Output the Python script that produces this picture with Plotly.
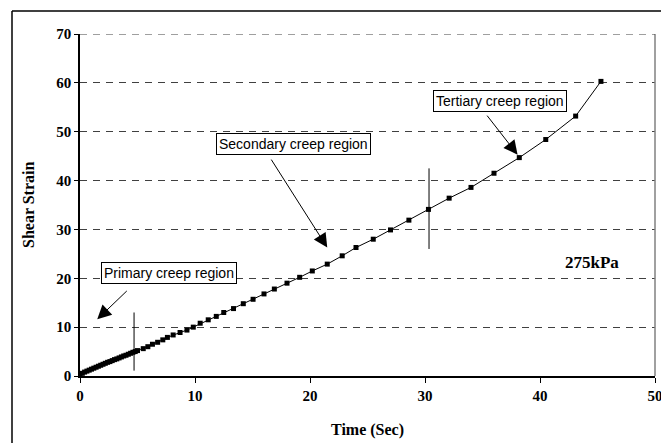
import plotly.graph_objects as go

# Data
time_s = [0.0, 0.2, 0.4, 0.6, 0.8, 1.0, 1.2, 1.4, 1.6, 1.8, 2.0, 2.2, 2.4, 2.6, 2.8,
          3.0, 3.2, 3.4, 3.6, 3.8, 4.0, 4.2, 4.4, 4.6, 4.8, 5.0,
          5.5, 5.9, 6.3, 6.75, 7.2, 7.6, 8.1, 8.7, 9.3, 9.85, 10.45, 11.15, 11.85,
          12.5, 13.35, 14.2, 15.05, 16.0, 16.9, 18.0, 19.1, 20.2, 21.5, 22.8, 24.0,
          25.5, 27.0, 28.6, 30.3, 32.1, 34.0, 36.0, 38.2, 40.5, 43.1, 45.3]
shear_strain = [0.3, 0.55, 0.8, 1.0, 1.2, 1.4, 1.6, 1.8, 2.0, 2.2, 2.4, 2.6, 2.8, 2.95, 3.15,
                3.35, 3.5, 3.7, 3.9, 4.1, 4.25, 4.45, 4.65, 4.85, 5.0, 5.2,
                5.6, 6.0, 6.5, 6.9, 7.4, 7.9, 8.4, 8.9, 9.4, 10.0, 10.8, 11.5, 12.2,
                13.0, 13.8, 14.8, 15.7, 16.8, 17.8, 19.0, 20.2, 21.5, 22.9, 24.6, 26.3,
                28.0, 29.9, 31.9, 34.1, 36.4, 38.6, 41.5, 44.7, 48.4, 53.2, 60.3]

x_ticks = [0, 10, 20, 30, 40, 50]
y_ticks = [0, 10, 20, 30, 40, 50, 60, 70]

# region boundary markers (x, y0, y1)
boundaries = [(4.7, 1.1, 13.0), (30.35, 26.0, 42.5)]

# labelled arrows: text, box centre (x, y), arrow tail (x, y), arrow head (x, y)
labels = [
    ("Primary creep region", (7.75, 21.1), (4.2, 17.7), (1.5, 11.6)),
    ("Secondary creep region", (18.6, 47.5), (16.55, 44.6), (21.5, 26.3)),
    ("Tertiary creep region", (36.55, 56.2), (35.3, 53.6), (38.05, 45.3)),
]

serif = "Liberation Serif, Times New Roman, serif"
grid_dash = "7px,6px"

fig = go.Figure()
fig.add_trace(go.Scatter(
    x=time_s, y=shear_strain, mode="lines+markers",
    line=dict(color="black", width=1),
    marker=dict(symbol="square", size=5, color="black"),
    showlegend=False, hoverinfo="skip"))

for bx, y0, y1 in boundaries:
    fig.add_trace(go.Scatter(x=[bx, bx], y=[y0, y1], mode="lines",
                             line=dict(color="black", width=1),
                             showlegend=False, hoverinfo="skip"))

for text, (cx, cy), (tx, ty), (hx, hy) in labels:
    fig.add_annotation(x=cx, y=cy, text=text, showarrow=False,
                       font=dict(family="Liberation Sans, Arial", size=14, color="black"),
                       bordercolor="black", borderwidth=1, borderpad=2, bgcolor="white")
    fig.add_annotation(x=hx, y=hy, ax=tx, ay=ty, axref="x", ayref="y",
                       text="", showarrow=True, arrowhead=2, arrowsize=2.8,
                       arrowwidth=1, arrowcolor="black")

fig.add_annotation(x=44.5, y=23.3, text="275kPa", showarrow=False,
                   font=dict(family=serif, size=17, color="black", weight="bold"))

# axis titles
fig.add_annotation(xref="paper", yref="paper", x=(28 - 80) / 575, y=0.5,
                   xanchor="center", yanchor="middle",
                   text="Shear Strain", textangle=-90, showarrow=False,
                   font=dict(family=serif, size=16, color="black", weight="bold"))
fig.add_annotation(xref="paper", yref="paper", x=0.5, y=-(430 - 376) / 342,
                   xanchor="center", yanchor="middle",
                   text="Time (Sec)", showarrow=False,
                   font=dict(family=serif, size=16, color="black", weight="bold"))

# outer chart frame (left and top edges visible)
fig.add_shape(type="line", xref="paper", yref="paper",
              x0=(12 - 80) / 575, x1=(12 - 80) / 575, y0=(376 - 11) / 342, y1=-0.3,
              line=dict(color="black", width=1.5))
fig.add_shape(type="line", xref="paper", yref="paper",
              x0=(12 - 80) / 575, x1=1.2, y0=(376 - 11) / 342, y1=(376 - 11) / 342,
              line=dict(color="black", width=1.5))
# right plot-area border
fig.add_shape(type="line", xref="paper", yref="paper", x0=1, x1=1, y0=0, y1=1,
              line=dict(color="#808080", width=1.5))
# top gridline at the range edge
fig.add_shape(type="line", xref="paper", yref="y", x0=0, x1=1, y0=y_ticks[-1], y1=y_ticks[-1],
              line=dict(color="#404040", width=1, dash=grid_dash))

tick_font = dict(family=serif, size=15, color="black", weight="bold")
fig.update_xaxes(range=[0, 50], tickvals=x_ticks, ticktext=[str(v) for v in x_ticks],
                 showgrid=False, zeroline=False, showline=True, linecolor="black", linewidth=1.5,
                 ticks="outside", ticklen=5, tickcolor="black", tickfont=tick_font,
                 ticklabeloverflow="allow", automargin=False)
fig.update_yaxes(range=[0, 70], tickvals=y_ticks, ticktext=[str(v) for v in y_ticks],
                 showgrid=True, gridcolor="#404040", griddash=grid_dash, gridwidth=1,
                 zeroline=False, showline=True, linecolor="black", linewidth=1.5,
                 ticks="outside", ticklen=4, tickcolor="black", tickfont=tick_font,
                 ticklabeloverflow="allow", automargin=False)

fig.update_layout(width=661, height=443, margin=dict(l=80, r=6, t=34, b=67, autoexpand=False),
                  paper_bgcolor="white", plot_bgcolor="white")

fig.write_html("out.html")
